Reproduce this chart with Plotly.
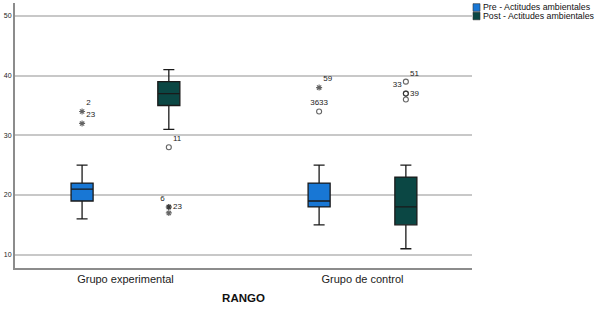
import plotly.graph_objects as go

# ---------------- data ----------------
categories = ["Grupo experimental", "Grupo de control"]
series_names = ["Pre - Actitudes ambientales", "Post - Actitudes ambientales"]

pre_lowerfence = [16, 15]
pre_q1 = [19, 18]
pre_median = [21, 19]
pre_q3 = [22, 22]
pre_upperfence = [25, 25]

post_lowerfence = [31, 11]
post_q1 = [35, 15]
post_median = [37, 18]
post_q3 = [39, 23]
post_upperfence = [41, 25]

pre_out_group = [0, 0, 1, 1]
pre_out_value = [34, 32, 38, 34]
pre_out_kind = ["extreme", "extreme", "extreme", "outlier"]
pre_out_label = ["2", "23", "59", "3633"]

post_out_group = [0, 0, 0, 0, 1, 1, 1, 1]
post_out_value = [28, 18, 18, 17, 39, 37, 37, 36]
post_out_kind = ["outlier", "extreme", "extreme", "extreme",
                 "outlier", "outlier", "outlier", "outlier"]
post_out_label = ["11", "6", "23", "", "51", "33", "39", ""]

# ---------------- style ----------------
W, H = 614, 309
ML, MR, MT, MB = 15, 142, 3, 41
colors = ["#1877D5", "#0B4744"]
offsets = [-0.183, 0.183]
box_width = 0.093
FONT = "Liberation Sans, Arial, sans-serif"
pre_textpos = ["top right", "top right", "top right", "top center"]
post_textpos = ["top right", "top left", "middle right", "top right",
                "top right", "top left", "middle right", "top right"]
symbol_map = {"extreme": "asterisk-open", "outlier": "circle-open"}
size_map = {"extreme": 5, "outlier": 5}

stats = [
    (pre_lowerfence, pre_q1, pre_median, pre_q3, pre_upperfence),
    (post_lowerfence, post_q1, post_median, post_q3, post_upperfence),
]
outs = [
    (pre_out_group, pre_out_value, pre_out_kind, pre_out_label, pre_textpos),
    (post_out_group, post_out_value, post_out_kind, post_out_label, post_textpos),
]

fig = go.Figure()
for s in range(2):
    lf, q1, med, q3, uf = stats[s]
    fig.add_trace(go.Box(
        x=[i + offsets[s] for i in range(len(categories))],
        q1=q1, median=med, q3=q3, lowerfence=lf, upperfence=uf,
        orientation="v",
        width=box_width, whiskerwidth=0.5,
        fillcolor=colors[s],
        line=dict(color="#1a1a1a", width=1.3),
        boxpoints=False, name=series_names[s], showlegend=False,
        hoverinfo="skip",
    ))
for s in range(2):
    g, v, k, lab, tp = outs[s]
    fig.add_trace(go.Scatter(
        x=[gi + offsets[s] for gi in g], y=v,
        mode="markers+text",
        marker=dict(symbol=[symbol_map[kk] for kk in k],
                    size=[size_map[kk] for kk in k],
                    color="#222222", line=dict(color="#222222", width=1.1)),
        text=lab, textposition=tp,
        textfont=dict(family=FONT, size=8, color="#222222"),
        showlegend=False, hoverinfo="skip",
    ))

def px_x(p):
    return (p - ML) / (W - ML - MR)

def px_y(p):
    return 1 - (p - MT) / (H - MT - MB)

# manual legend
leg_rows = [7.5, 16]
for s in range(2):
    yc = leg_rows[s]
    fig.add_shape(type="rect", xref="paper", yref="paper",
                  x0=px_x(473), x1=px_x(480), y0=px_y(yc + 3.8), y1=px_y(yc - 3.8),
                  fillcolor=colors[s], line=dict(color="#333333", width=0.6))
    fig.add_annotation(xref="paper", yref="paper", x=px_x(481), y=px_y(yc),
                       xanchor="left", yanchor="middle", showarrow=False,
                       text=series_names[s],
                       font=dict(family=FONT, size=8.8, color="#111111"))

fig.update_layout(
    width=W, height=H,
    margin=dict(l=ML, r=MR, t=MT, b=MB, autoexpand=False),
    paper_bgcolor="white", plot_bgcolor="white",
    showlegend=False,
    font=dict(family=FONT, color="#222222"),
)
fig.update_xaxes(
    range=[-0.466, 1.462], tickmode="array",
    tickvals=list(range(len(categories))), ticktext=categories,
    tickfont=dict(family=FONT, size=11, color="#222222"),
    ticks="", showgrid=False, zeroline=False,
    showline=True, linecolor="#8c8c8c", linewidth=2,
    automargin=False,
    title=dict(text="<b>RANGO</b>", font=dict(family=FONT, size=11.5, color="#111111"), standoff=10),
)
fig.update_yaxes(
    range=[7.77, 52.18], tickmode="array", tickvals=[10, 20, 30, 40, 50],
    tickfont=dict(family=FONT, size=7, color="#222222"),
    ticks="", showgrid=True, gridcolor="#c8c8c8", gridwidth=1.5,
    zeroline=False, showline=True, linecolor="#8c8c8c", linewidth=2,
    automargin=False,
)

fig.write_html("out.html", config={"displayModeBar": False},
               post_script="document.body.style.margin='0';")
